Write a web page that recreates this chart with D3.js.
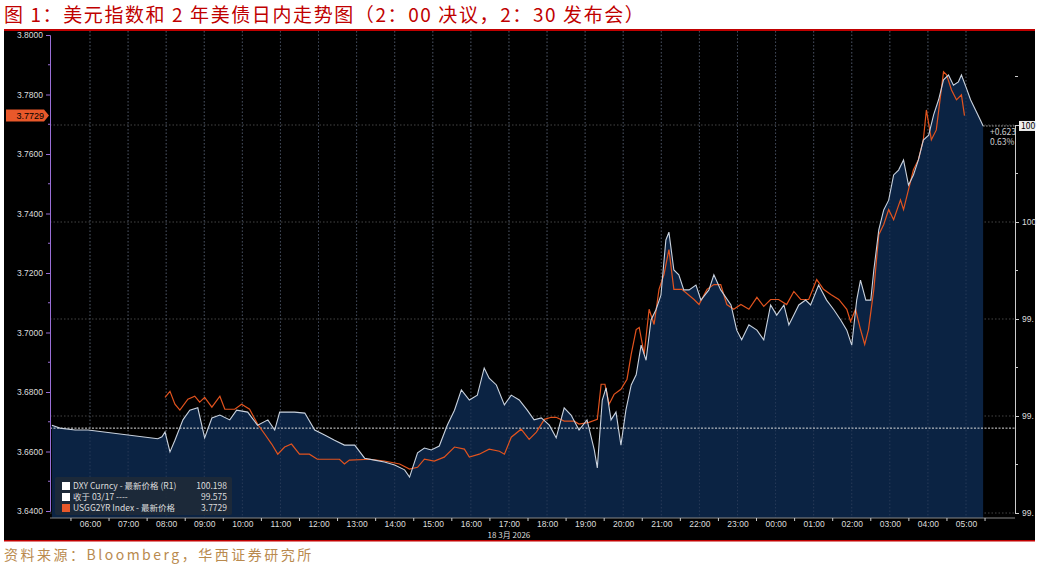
<!DOCTYPE html>
<html>
<head>
<meta charset="utf-8">
<script src="https://cdn.jsdelivr.net/npm/d3@7"></script>
<style>
  body { margin: 0; background: #fff; font-family: "Noto Sans CJK SC", "Noto Sans", sans-serif; }
</style>
</head>
<body>
<svg id="chart" width="1039" height="570"></svg>
<script>
// DXY intraday (hours since 18 Mar 00:00, value)
const dxyHours = [5.00,5.21,5.61,5.95,7.78,7.89,7.97,8.10,8.23,8.44,8.62,8.83,9.01,9.20,9.41,9.67,9.85,10.14,10.40,10.67,10.85,10.98,11.37,11.64,11.90,12.16,12.42,12.68,12.95,13.21,13.47,13.73,14.00,14.26,14.39,14.60,14.78,14.96,15.17,15.38,15.57,15.75,15.96,16.17,16.35,16.48,16.67,16.88,17.06,17.27,17.48,17.66,17.85,18.06,18.24,18.45,18.63,18.84,19.05,19.24,19.32,19.45,19.55,19.68,19.81,19.94,20.07,20.21,20.34,20.47,20.60,20.73,20.86,20.99,21.12,21.20,21.33,21.46,21.59,21.73,21.91,22.04,22.25,22.38,22.56,22.83,22.98,23.11,23.30,23.51,23.69,23.87,24.03,24.22,24.35,24.48,24.61,24.79,24.92,25.13,25.34,25.53,25.71,25.87,26.00,26.13,26.23,26.37,26.50,26.58,26.71,26.84,26.97,27.10,27.23,27.36,27.49,27.62,27.75,27.88,28.02,28.15,28.28,28.41,28.54,28.67,28.80,28.88,29.01,29.12,29.25,29.38,29.45];
const dxyValues = [99.581,99.575,99.571,99.571,99.553,99.557,99.567,99.526,99.550,99.592,99.612,99.617,99.555,99.596,99.602,99.592,99.612,99.608,99.581,99.592,99.571,99.608,99.608,99.606,99.571,99.561,99.550,99.540,99.540,99.513,99.509,99.505,99.499,99.489,99.474,99.524,99.534,99.530,99.538,99.581,99.612,99.654,99.633,99.643,99.699,99.678,99.664,99.623,99.643,99.633,99.612,99.592,99.596,99.581,99.555,99.617,99.602,99.571,99.592,99.530,99.493,99.633,99.658,99.592,99.608,99.540,99.612,99.664,99.685,99.746,99.715,99.798,99.819,99.849,99.963,99.979,99.901,99.891,99.860,99.860,99.870,99.839,99.860,99.891,99.860,99.829,99.777,99.757,99.788,99.777,99.757,99.829,99.808,99.829,99.788,99.808,99.829,99.839,99.829,99.870,99.839,99.819,99.798,99.777,99.746,99.839,99.880,99.839,99.839,99.901,99.984,100.025,100.045,100.097,100.107,100.128,100.076,100.097,100.128,100.169,100.179,100.221,100.252,100.293,100.303,100.282,100.289,100.303,100.276,100.252,100.231,100.210,100.198];

// USGG2YR intraday
const ustHours = [7.97,8.10,8.23,8.36,8.57,8.75,8.88,9.01,9.20,9.41,9.54,9.80,9.98,10.19,10.40,10.59,10.77,10.93,11.11,11.29,11.50,11.76,11.97,12.55,12.68,12.81,13.34,13.73,14.13,14.39,14.60,14.78,15.04,15.30,15.57,15.83,15.96,16.22,16.48,16.75,16.88,17.06,17.32,17.53,17.72,17.93,18.11,18.24,18.45,18.71,18.84,19.10,19.32,19.42,19.52,19.63,19.76,19.94,20.10,20.21,20.34,20.42,20.55,20.68,20.81,20.94,21.07,21.20,21.33,21.54,21.86,21.99,22.20,22.38,22.56,22.72,22.90,23.09,23.30,23.51,23.69,23.87,24.08,24.29,24.48,24.66,24.87,25.08,25.26,25.45,25.66,25.87,25.97,26.10,26.23,26.34,26.44,26.58,26.71,26.84,26.97,27.10,27.28,27.36,27.49,27.62,27.75,27.88,27.96,28.09,28.22,28.41,28.49,28.62,28.75,28.88,28.96];
const ustValues = [3.6782,3.6802,3.6759,3.6739,3.6776,3.6786,3.6766,3.6782,3.6749,3.6786,3.6742,3.6742,3.6759,3.6742,3.6692,3.6658,3.6625,3.6591,3.6615,3.6625,3.6591,3.6591,3.6574,3.6574,3.6558,3.6571,3.6574,3.6568,3.6558,3.6541,3.6547,3.6574,3.6568,3.6581,3.6615,3.6608,3.6581,3.6591,3.6608,3.6601,3.6591,3.6648,3.6675,3.6641,3.6665,3.6708,3.6715,3.6715,3.6702,3.6702,3.6692,3.6698,3.6708,3.6826,3.6826,3.6759,3.6792,3.6809,3.6843,3.6927,3.7010,3.7017,3.6927,3.7078,3.7027,3.7145,3.7195,3.7279,3.7145,3.7145,3.7111,3.7094,3.7145,3.7161,3.7161,3.7094,3.7078,3.7094,3.7078,3.7118,3.7088,3.7111,3.7111,3.7094,3.7138,3.7111,3.7111,3.7178,3.7145,3.7128,3.7111,3.7078,3.7037,3.7078,3.7010,3.6960,3.7010,3.7145,3.7329,3.7363,3.7413,3.7379,3.7446,3.7413,3.7480,3.7547,3.7581,3.7648,3.7748,3.7648,3.7681,3.7876,3.7866,3.7815,3.7782,3.7799,3.7729];

const prevClose = 99.575;
const lastDxy = 100.198;
const lastUst = 3.7729;
const leftTicks = [3.64, 3.66, 3.68, 3.70, 3.72, 3.74, 3.76, 3.78, 3.80];
const rightTicks = [99.4, 99.6, 99.8, 100.0, 100.2];
const rightLabels = ["99.", "99.", "99.", "100", "100"];
const hourTicks = d3.range(6, 30);

const svg = d3.select("#chart");
const W = 1039;
const m = { left: 50, right: 1015, top: 31, bottom: 518 };

// Title and frame rules
svg.append("text").attr("x", 4).attr("y", 22)
  .attr("fill", "#c00000").attr("font-size", 19).attr("letter-spacing", 1.6)
  .text("图 1：美元指数和 2 年美债日内走势图（2：00 决议，2：30 发布会）");
svg.append("rect").attr("x", 4).attr("y", 29).attr("width", W - 8).attr("height", 2).attr("fill", "#c00000");

// Black panel
svg.append("rect").attr("x", 4).attr("y", 31).attr("width", W - 8).attr("height", 509).attr("fill", "#000");
svg.append("rect").attr("x", 4).attr("y", 540).attr("width", W - 8).attr("height", 1.5).attr("fill", "#c00000");

const x = d3.scaleLinear().domain([6, 29]).range([90, 966]);
const yL = d3.scaleLinear().domain([3.64, 3.80]).range([511, 35]);
const yR = d3.scaleLinear().domain([99.4, 100.2]).range([513, 125]);

const g = svg.append("g");

// Gridlines
g.selectAll(".vg").data(hourTicks).join("line")
  .attr("x1", d => x(d)).attr("x2", d => x(d))
  .attr("y1", m.top).attr("y2", m.bottom)
  .attr("stroke", "#555").attr("stroke-width", 0.8).attr("stroke-dasharray", "1.5,2");
g.selectAll(".hg").data(rightTicks).join("line")
  .attr("x1", m.left).attr("x2", m.right)
  .attr("y1", d => yR(d)).attr("y2", d => yR(d))
  .attr("stroke", "#555").attr("stroke-width", 0.8).attr("stroke-dasharray", "1.5,2");

const dxy = dxyHours.map((h, i) => [h, dxyValues[i]]);
const ust = ustHours.map((h, i) => [h, ustValues[i]]);

// DXY area + line
g.append("path").datum(dxy)
  .attr("d", d3.area().x(d => x(d[0])).y0(m.bottom).y1(d => yR(d[1])))
  .attr("fill", "#0b2343");
g.selectAll(".vg2").data(hourTicks).join("line")
  .attr("x1", d => x(d)).attr("x2", d => x(d))
  .attr("y1", m.top).attr("y2", m.bottom)
  .attr("stroke", "#3a4a66").attr("stroke-width", 0.6).attr("stroke-dasharray", "1.5,2");

// prev close dotted line
g.append("line").attr("x1", m.left).attr("x2", m.right)
  .attr("y1", yR(prevClose)).attr("y2", yR(prevClose))
  .attr("stroke", "#ddd").attr("stroke-width", 1).attr("stroke-dasharray", "2,1.5");

g.append("path").datum(ust)
  .attr("d", d3.line().x(d => x(d[0])).y(d => yL(d[1])))
  .attr("fill", "none").attr("stroke", "#e2531e").attr("stroke-width", 1.2);
g.append("path").datum(dxy)
  .attr("d", d3.line().x(d => x(d[0])).y(d => yR(d[1])))
  .attr("fill", "none").attr("stroke", "#c9d2de").attr("stroke-width", 1.1);

// last DXY dotted line
g.append("line").attr("x1", x(dxyHours[dxyHours.length - 1])).attr("x2", m.right)
  .attr("y1", yR(lastDxy)).attr("y2", yR(lastDxy))
  .attr("stroke", "#aaa").attr("stroke-dasharray", "1.5,1.5");
svg.append("text").attr("x", 990).attr("y", yR(lastDxy) + 9).attr("fill", "#ccc").attr("font-size", 8.5).text("+0.623");
svg.append("text").attr("x", 990).attr("y", yR(lastDxy) + 19).attr("fill", "#ccc").attr("font-size", 8.5).text("0.63%");

// Left axis
const axL = svg.append("g").attr("transform", `translate(${m.left},0)`)
  .call(d3.axisLeft(yL).tickValues(leftTicks).tickFormat(d3.format(".4f")).tickSize(4));
axL.select(".domain").attr("stroke", "#9a6fd6");
axL.selectAll(".tick line").attr("stroke", "#9a6fd6");
axL.selectAll("text").attr("fill", "#ddd").attr("font-size", 8.5).attr("font-family", "Liberation Sans, sans-serif");
svg.append("g").selectAll("line").data(d3.range(3.65, 3.80, 0.02)).join("line")
  .attr("x1", m.left - 2).attr("x2", m.left).attr("y1", d => yL(d)).attr("y2", d => yL(d)).attr("stroke", "#9a6fd6");

// Last UST marker
const yl = yL(lastUst);
svg.append("path").attr("d", `M6,${yl - 6}H44L49,${yl}L44,${yl + 6}H6Z`).attr("fill", "#e8582a");
svg.append("text").attr("x", 44).attr("y", yl + 3.5).attr("text-anchor", "end")
  .attr("fill", "#000").attr("font-size", 9).attr("font-family", "Liberation Sans, sans-serif").text("3.7729");

// Right axis
const axR = svg.append("g").attr("transform", `translate(${m.right},0)`)
  .call(d3.axisRight(yR).tickValues(rightTicks).tickFormat((d, i) => rightLabels[i]).tickSize(4));
axR.select(".domain").attr("stroke", "#ccc");
axR.selectAll(".tick line").attr("stroke", "#ccc");
axR.selectAll("text").attr("fill", "#ddd").attr("font-size", 8.5).attr("font-family", "Liberation Sans, sans-serif");
svg.append("g").selectAll("line").data([99.5, 99.7, 99.9, 100.1, 100.3]).join("line")
  .attr("x1", m.right).attr("x2", m.right + 3).attr("y1", d => yR(d)).attr("y2", d => yR(d)).attr("stroke", "#ccc");
svg.append("rect").attr("x", 1019).attr("y", yR(lastDxy) - 5).attr("width", 16).attr("height", 10).attr("fill", "#eee");
svg.append("text").attr("x", 1021).attr("y", yR(lastDxy) + 3).attr("fill", "#000").attr("font-size", 8.5).text("100");

// Bottom axis
const axB = svg.append("g").attr("transform", `translate(0,${m.bottom})`)
  .call(d3.axisBottom(x).tickValues(hourTicks).tickFormat(d => String(d % 24).padStart(2, "0") + ":00").tickSize(0).tickPadding(3));
axB.select(".domain").remove();
svg.append("line").attr("x1", m.left).attr("x2", m.right).attr("y1", m.bottom).attr("y2", m.bottom).attr("stroke", "#888");
axB.selectAll("text").attr("fill", "#ddd").attr("font-size", 8.5).attr("font-family", "Liberation Sans, sans-serif");
svg.append("g").selectAll("line").data(d3.range(5.5, 29.6, 1)).join("line")
  .attr("x1", d => x(d)).attr("x2", d => x(d)).attr("y1", m.bottom).attr("y2", m.bottom + 3).attr("stroke", "#ccc");
svg.append("text").attr("x", x(17)).attr("y", 538).attr("text-anchor", "middle")
  .attr("fill", "#ddd").attr("font-size", 8).text("18 3月 2026");

// Legend
const lg = svg.append("g").attr("transform", "translate(55,477)");
lg.append("rect").attr("width", 177).attr("height", 38).attr("rx", 2).attr("fill", "#1e2a38").attr("opacity", 0.92);
const legendRows = [
  { c: "#fff", t: "DXY Curncy - 最新价格 (R1)", v: "100.198" },
  { c: "#fff", t: "收于 03/17 ----", v: "99.575" },
  { c: "#e8582a", t: "USGG2YR Index - 最新价格", v: "3.7729" }
];
legendRows.forEach((r, i) => {
  lg.append("rect").attr("x", 7).attr("y", 5 + i * 11).attr("width", 8).attr("height", 8).attr("fill", r.c);
  lg.append("text").attr("x", 18).attr("y", 12 + i * 11).attr("fill", "#ddd").attr("font-size", 8.5).text(r.t);
  lg.append("text").attr("x", 172).attr("y", 12 + i * 11).attr("text-anchor", "end").attr("fill", "#ddd").attr("font-size", 8.5).text(r.v);
});

// Source
svg.append("text").attr("x", 4).attr("y", 560).attr("fill", "#b98a4e").attr("font-size", 14).attr("letter-spacing", 2.5)
  .text("资料来源：Bloomberg，华西证券研究所");
</script>
</body>
</html>
